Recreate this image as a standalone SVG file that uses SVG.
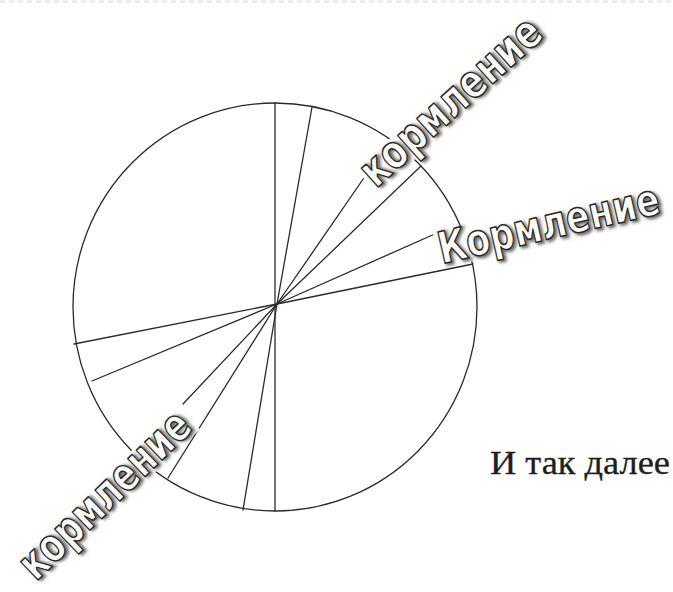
<svg xmlns="http://www.w3.org/2000/svg" width="673" height="592" viewBox="0 0 673 592">
  <defs>
    <filter id="blur" x="-10%" y="-30%" width="120%" height="160%">
      <feGaussianBlur stdDeviation="1.8"/>
    </filter>
    <style>
      .ln { stroke: #2a2a2a; stroke-width: 1.3; fill: none; stroke-linecap: round; }
      .wa { font-family: "DejaVu Sans", "Liberation Sans", sans-serif; font-weight: bold; fill: #ffffff; stroke: #2a2a2a; stroke-width: 1.5; stroke-linejoin: round; }
      .sh { font-family: "DejaVu Sans", "Liberation Sans", sans-serif; font-weight: bold; fill: #6e6e6e; stroke: #6e6e6e; stroke-width: 2.5; filter: url(#blur); }
      .bg { fill: #ffffff; }
      .note { font-family: "Liberation Serif", "Times New Roman", serif; font-size: 34px; fill: #1e1e1e; stroke: #1e1e1e; stroke-width: 0.3; }
    </style>
  </defs>
  <rect x="0" y="0" width="673" height="592" fill="#ffffff"/>
  <line x1="0" y1="1.5" x2="673" y2="1.5" stroke="#e2e2e2" stroke-width="2" stroke-dasharray="5 4"/>

  <g id="pie">
    <ellipse class="ln" cx="275" cy="307" rx="202" ry="204"/>
  </g>

  <g id="connectors">
    <line class="ln" x1="275" y1="103" x2="275" y2="511"/>
    <line class="ln" x1="277" y1="304" x2="312" y2="107"/>
    <line class="ln" x1="277" y1="304" x2="368" y2="172"/>
    <line class="ln" x1="277" y1="304" x2="421" y2="166"/>
    <line class="ln" x1="277" y1="304" x2="437" y2="233"/>
    <line class="ln" x1="277" y1="304" x2="473" y2="264"/>
    <line class="ln" x1="277" y1="304" x2="74" y2="344"/>
    <line class="ln" x1="277" y1="304" x2="92" y2="381"/>
    <line class="ln" x1="277" y1="304" x2="183" y2="404"/>
    <line class="ln" x1="277" y1="304" x2="168" y2="478"/>
    <line class="ln" x1="277" y1="304" x2="243" y2="510"/>
  </g>

  <g id="label-top" transform="translate(376 189) rotate(-42)">
    <rect class="bg" x="-2" y="-28" width="232" height="32"/>
    <text class="sh" x="2" y="2" font-size="46" textLength="228" lengthAdjust="spacingAndGlyphs">кормление</text>
    <text class="wa" x="0" y="0" font-size="46" textLength="228" lengthAdjust="spacingAndGlyphs">кормление</text>
  </g>

  <g id="label-right" transform="translate(442 264) rotate(-13)">
    <rect class="bg" x="-2" y="-32" width="232" height="36"/>
    <text class="sh" x="2" y="2" font-size="44" textLength="226" lengthAdjust="spacingAndGlyphs">Кормление</text>
    <text class="wa" x="0" y="0" font-size="44" textLength="226" lengthAdjust="spacingAndGlyphs">Кормление</text>
  </g>

  <g id="label-bottom" transform="translate(36 582) rotate(-44)">
    <rect class="bg" x="-2" y="-28" width="226" height="32"/>
    <text class="sh" x="2" y="2" font-size="46" textLength="220" lengthAdjust="spacingAndGlyphs">кормление</text>
    <text class="wa" x="0" y="0" font-size="46" textLength="220" lengthAdjust="spacingAndGlyphs">кормление</text>
  </g>

  <g id="note">
    <text class="note" x="490" y="474" textLength="180" lengthAdjust="spacingAndGlyphs">И так далее</text>
  </g>
</svg>
